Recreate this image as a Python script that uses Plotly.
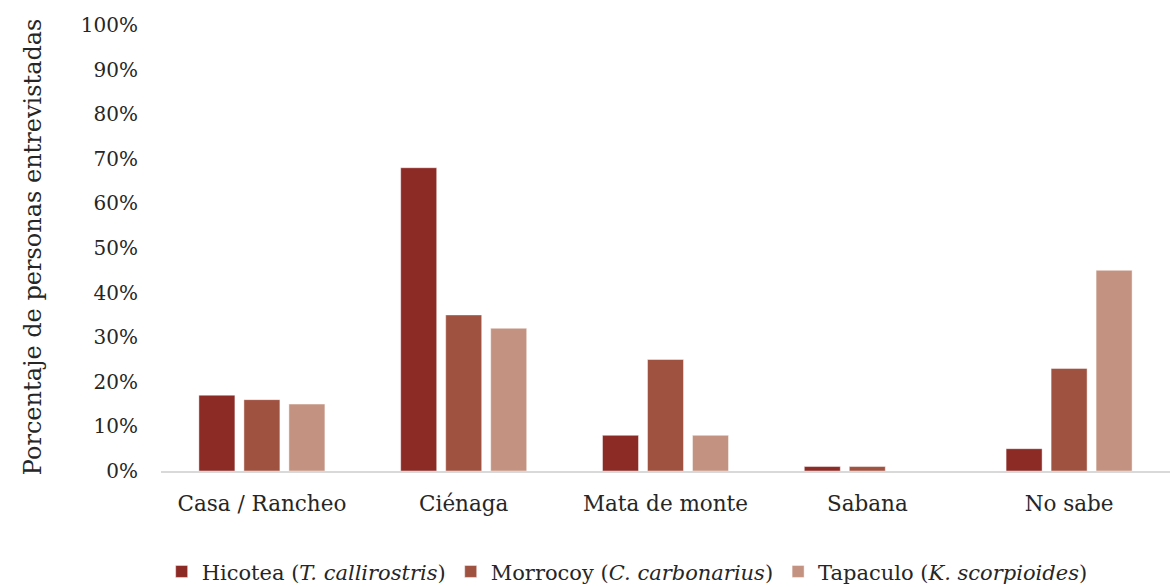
import plotly.graph_objects as go

categories = ["Casa / Rancheo", "Ciénaga", "Mata de monte", "Sabana", "No sabe"]
series_names = [
    "Hicotea (<i>T. callirostris</i>)",
    "Morrocoy (<i>C. carbonarius</i>)",
    "Tapaculo (<i>K. scorpioides</i>)",
]
hicotea = [0.17, 0.68, 0.08, 0.01, 0.05]
morrocoy = [0.16, 0.35, 0.25, 0.01, 0.23]
tapaculo = [0.15, 0.32, 0.08, 0.0, 0.45]
colors = ["#8C2A25", "#A05241", "#C49280"]
y_ticks = [0, 0.1, 0.2, 0.3, 0.4, 0.5, 0.6, 0.7, 0.8, 0.9, 1.0]

FONT = "DejaVu Serif"

fig = go.Figure()
for name, vals, col in zip(series_names, [hicotea, morrocoy, tapaculo], colors):
    fig.add_trace(go.Bar(
        x=categories, y=vals, name=name,
        marker=dict(color=col, line=dict(color="rgba(255,255,255,0.45)", width=1)),
    ))

fig.update_layout(
    width=1170, height=587,
    margin=dict(l=161, r=0, t=25, b=116, autoexpand=False),
    paper_bgcolor="white", plot_bgcolor="white",
    font=dict(family=FONT, size=20, color="#262626"),
    barmode="group", bargap=0.331, bargroupgap=0.2,
    showlegend=True,
    legend=dict(orientation="h", x=0.462, xanchor="center",
                y=-0.226, yanchor="middle",
                font=dict(family=FONT, size=21, color="#262626"), traceorder="normal"),
    xaxis=dict(showline=True, linecolor="#D9D9D9", linewidth=2, showgrid=False,
               ticks="", tickfont=dict(size=21.5), ticklabelstandoff=12, automargin=False),
    yaxis=dict(range=[0, 1.0], tickvals=y_ticks, tickformat=".0%", showgrid=False,
               zeroline=False, showline=False, ticks="", ticklabelstandoff=22,
               tickfont=dict(size=20), automargin=False),
    annotations=[dict(text="Porcentaje de personas entrevistadas", textangle=-90,
                      xref="paper", yref="paper", x=-0.1269, y=0.504,
                      xanchor="center", yanchor="middle", showarrow=False,
                      font=dict(family=FONT, size=24, color="#262626"))],
)

fig.write_html("out.html")
